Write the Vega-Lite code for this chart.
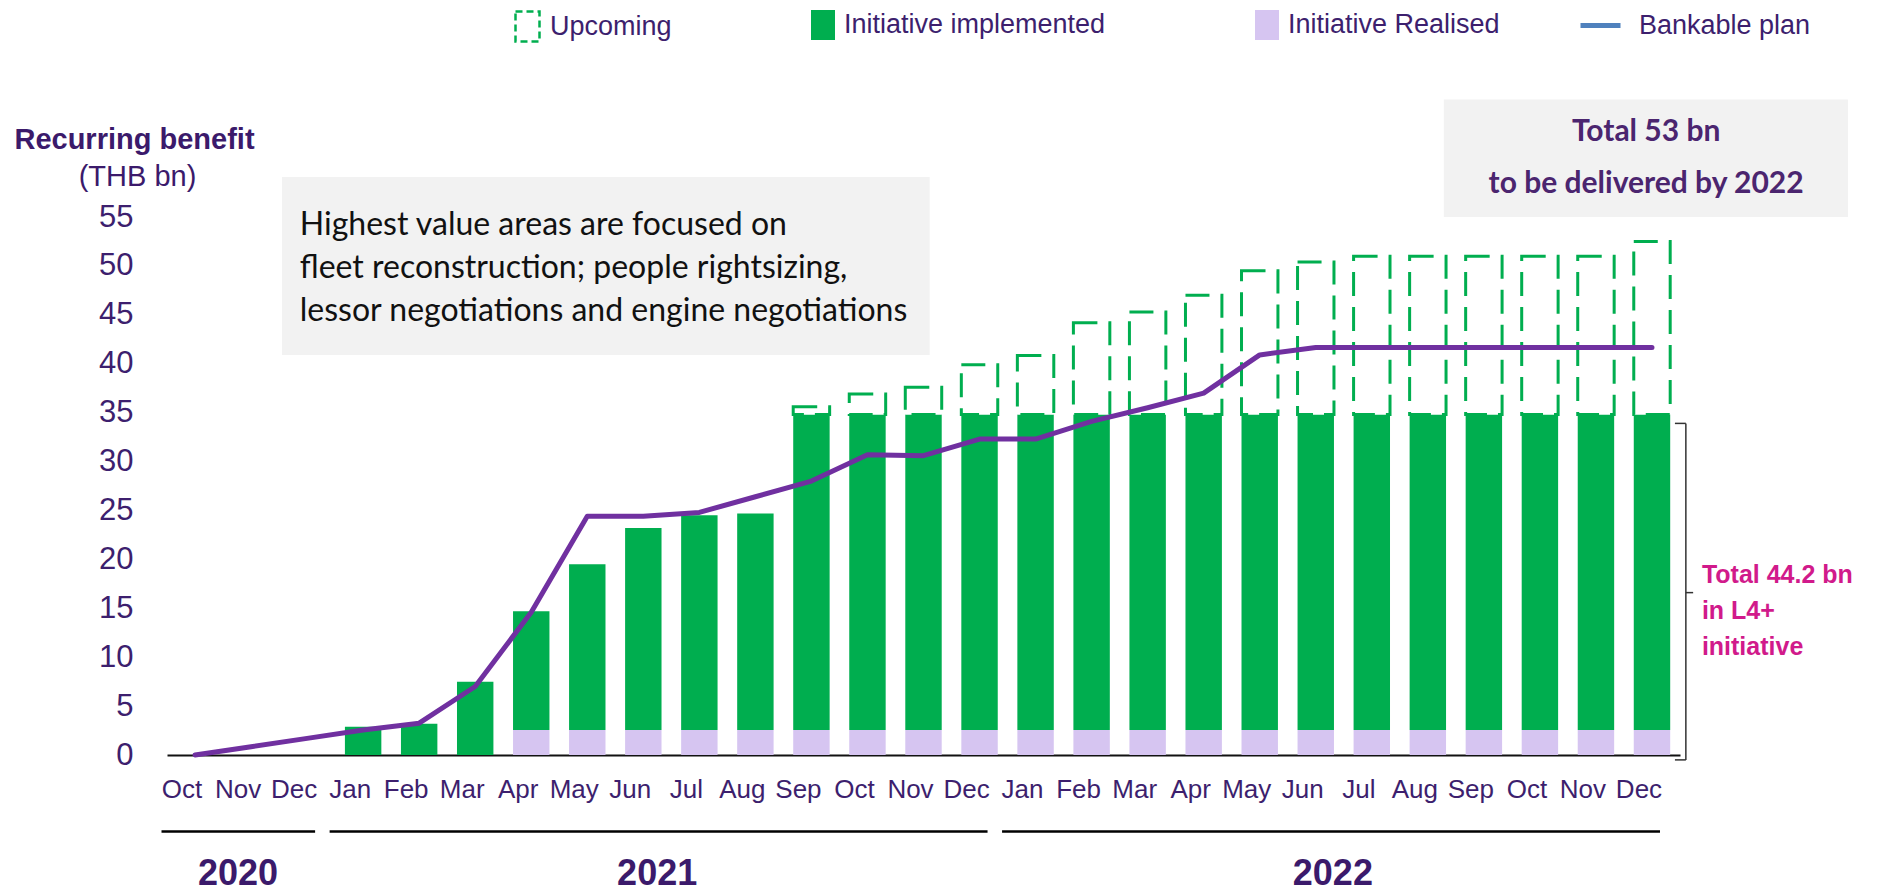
{
  "$schema": "https://vega.github.io/schema/vega-lite/v6.json",
  "width": 1513,
  "height": 538,
  "autosize": {"type": "none"},
  "padding": {"left": 167, "top": 217, "right": 224, "bottom": 139},
  "background": "white",
  "config": {"view": {"stroke": null}, "font": "Liberation Sans"},
  "datasets": {
    "bars": [
      {"month": "Jan 2021", "series": "Initiative implemented", "value": 2.9},
      {"month": "Feb 2021", "series": "Initiative implemented", "value": 3.2},
      {"month": "Mar 2021", "series": "Initiative implemented", "value": 7.5},
      {"month": "Apr 2021", "series": "Initiative Realised", "value": 2.55},
      {"month": "Apr 2021", "series": "Initiative implemented", "value": 12.15},
      {"month": "May 2021", "series": "Initiative Realised", "value": 2.55},
      {"month": "May 2021", "series": "Initiative implemented", "value": 16.95},
      {"month": "Jun 2021", "series": "Initiative Realised", "value": 2.55},
      {"month": "Jun 2021", "series": "Initiative implemented", "value": 20.65},
      {"month": "Jul 2021", "series": "Initiative Realised", "value": 2.55},
      {"month": "Jul 2021", "series": "Initiative implemented", "value": 21.95},
      {"month": "Aug 2021", "series": "Initiative Realised", "value": 2.55},
      {"month": "Aug 2021", "series": "Initiative implemented", "value": 22.15},
      {"month": "Sep 2021", "series": "Initiative Realised", "value": 2.55},
      {"month": "Sep 2021", "series": "Initiative implemented", "value": 32.25},
      {"month": "Oct 2021", "series": "Initiative Realised", "value": 2.55},
      {"month": "Oct 2021", "series": "Initiative implemented", "value": 32.25},
      {"month": "Nov 2021", "series": "Initiative Realised", "value": 2.55},
      {"month": "Nov 2021", "series": "Initiative implemented", "value": 32.25},
      {"month": "Dec 2021", "series": "Initiative Realised", "value": 2.55},
      {"month": "Dec 2021", "series": "Initiative implemented", "value": 32.25},
      {"month": "Jan 2022", "series": "Initiative Realised", "value": 2.55},
      {"month": "Jan 2022", "series": "Initiative implemented", "value": 32.25},
      {"month": "Feb 2022", "series": "Initiative Realised", "value": 2.55},
      {"month": "Feb 2022", "series": "Initiative implemented", "value": 32.25},
      {"month": "Mar 2022", "series": "Initiative Realised", "value": 2.55},
      {"month": "Mar 2022", "series": "Initiative implemented", "value": 32.25},
      {"month": "Apr 2022", "series": "Initiative Realised", "value": 2.55},
      {"month": "Apr 2022", "series": "Initiative implemented", "value": 32.25},
      {"month": "May 2022", "series": "Initiative Realised", "value": 2.55},
      {"month": "May 2022", "series": "Initiative implemented", "value": 32.25},
      {"month": "Jun 2022", "series": "Initiative Realised", "value": 2.55},
      {"month": "Jun 2022", "series": "Initiative implemented", "value": 32.25},
      {"month": "Jul 2022", "series": "Initiative Realised", "value": 2.55},
      {"month": "Jul 2022", "series": "Initiative implemented", "value": 32.25},
      {"month": "Aug 2022", "series": "Initiative Realised", "value": 2.55},
      {"month": "Aug 2022", "series": "Initiative implemented", "value": 32.25},
      {"month": "Sep 2022", "series": "Initiative Realised", "value": 2.55},
      {"month": "Sep 2022", "series": "Initiative implemented", "value": 32.25},
      {"month": "Oct 2022", "series": "Initiative Realised", "value": 2.55},
      {"month": "Oct 2022", "series": "Initiative implemented", "value": 32.25},
      {"month": "Nov 2022", "series": "Initiative Realised", "value": 2.55},
      {"month": "Nov 2022", "series": "Initiative implemented", "value": 32.25},
      {"month": "Dec 2022", "series": "Initiative Realised", "value": 2.55},
      {"month": "Dec 2022", "series": "Initiative implemented", "value": 32.25}
    ],
    "upcoming": [
      {"month": "Sep 2021", "series": "Upcoming", "base": 34.8, "total": 35.6},
      {"month": "Oct 2021", "series": "Upcoming", "base": 34.8, "total": 36.9},
      {"month": "Nov 2021", "series": "Upcoming", "base": 34.8, "total": 37.6},
      {"month": "Dec 2021", "series": "Upcoming", "base": 34.8, "total": 39.9},
      {"month": "Jan 2022", "series": "Upcoming", "base": 34.8, "total": 40.85},
      {"month": "Feb 2022", "series": "Upcoming", "base": 34.8, "total": 44.2},
      {"month": "Mar 2022", "series": "Upcoming", "base": 34.8, "total": 45.3},
      {"month": "Apr 2022", "series": "Upcoming", "base": 34.8, "total": 47.0},
      {"month": "May 2022", "series": "Upcoming", "base": 34.8, "total": 49.5},
      {"month": "Jun 2022", "series": "Upcoming", "base": 34.8, "total": 50.4},
      {"month": "Jul 2022", "series": "Upcoming", "base": 34.8, "total": 51.0},
      {"month": "Aug 2022", "series": "Upcoming", "base": 34.8, "total": 51.0},
      {"month": "Sep 2022", "series": "Upcoming", "base": 34.8, "total": 51.0},
      {"month": "Oct 2022", "series": "Upcoming", "base": 34.8, "total": 51.0},
      {"month": "Nov 2022", "series": "Upcoming", "base": 34.8, "total": 51.0},
      {"month": "Dec 2022", "series": "Upcoming", "base": 34.8, "total": 52.5}
    ],
    "plan": [
      {"month": "Oct 2020", "series": "Bankable plan", "plan": 0},
      {"month": "Nov 2020", "series": "Bankable plan", "plan": 0.85},
      {"month": "Dec 2020", "series": "Bankable plan", "plan": 1.7},
      {"month": "Jan 2021", "series": "Bankable plan", "plan": 2.55},
      {"month": "Feb 2021", "series": "Bankable plan", "plan": 3.25},
      {"month": "Mar 2021", "series": "Bankable plan", "plan": 7.0},
      {"month": "Apr 2021", "series": "Bankable plan", "plan": 14.6},
      {"month": "May 2021", "series": "Bankable plan", "plan": 24.4},
      {"month": "Jun 2021", "series": "Bankable plan", "plan": 24.4},
      {"month": "Jul 2021", "series": "Bankable plan", "plan": 24.8},
      {"month": "Aug 2021", "series": "Bankable plan", "plan": 26.4},
      {"month": "Sep 2021", "series": "Bankable plan", "plan": 28.0},
      {"month": "Oct 2021", "series": "Bankable plan", "plan": 30.7},
      {"month": "Nov 2021", "series": "Bankable plan", "plan": 30.6},
      {"month": "Dec 2021", "series": "Bankable plan", "plan": 32.3},
      {"month": "Jan 2022", "series": "Bankable plan", "plan": 32.3},
      {"month": "Feb 2022", "series": "Bankable plan", "plan": 34.1},
      {"month": "Mar 2022", "series": "Bankable plan", "plan": 35.5},
      {"month": "Apr 2022", "series": "Bankable plan", "plan": 37.0},
      {"month": "May 2022", "series": "Bankable plan", "plan": 40.9},
      {"month": "Jun 2022", "series": "Bankable plan", "plan": 41.65},
      {"month": "Jul 2022", "series": "Bankable plan", "plan": 41.65},
      {"month": "Aug 2022", "series": "Bankable plan", "plan": 41.65},
      {"month": "Sep 2022", "series": "Bankable plan", "plan": 41.65},
      {"month": "Oct 2022", "series": "Bankable plan", "plan": 41.65},
      {"month": "Nov 2022", "series": "Bankable plan", "plan": 41.65},
      {"month": "Dec 2022", "series": "Bankable plan", "plan": 41.65}
    ],
    "notes": [
      {"id": "focus", "text": "Highest value areas are focused on\nfleet reconstruction; people rightsizing,\nlessor negotiations and engine negotiations"},
      {"id": "total", "text": "Total 53 bn\nto be delivered by 2022"},
      {"id": "l4", "text": "Total 44.2 bn\nin L4+\ninitiative"}
    ],
    "years": [
      {"year": "2020", "start": "Oct 2020", "end": "Dec 2020"},
      {"year": "2021", "start": "Jan 2021", "end": "Dec 2021"},
      {"year": "2022", "start": "Jan 2022", "end": "Dec 2022"}
    ]
  },
  "layer": [
    {
      "data": {"name": "bars"},
      "mark": {"type": "bar"},
      "encoding": {
        "x": {
          "field": "month", "type": "nominal", "title": null,
          "scale": {
            "domain": ["Oct 2020", "Nov 2020", "Dec 2020", "Jan 2021", "Feb 2021", "Mar 2021", "Apr 2021", "May 2021", "Jun 2021", "Jul 2021", "Aug 2021", "Sep 2021", "Oct 2021", "Nov 2021", "Dec 2021", "Jan 2022", "Feb 2022", "Mar 2022", "Apr 2022", "May 2022", "Jun 2022", "Jul 2022", "Aug 2022", "Sep 2022", "Oct 2022", "Nov 2022", "Dec 2022"],
            "paddingInner": 0.35, "paddingOuter": 0.175
          },
          "axis": {
            "title": null, "labelExpr": "substring(datum.label, 0, 3)", "labelAngle": 0,
            "ticks": false, "grid": false, "domain": true, "domainColor": "#111111", "domainWidth": 2,
            "labelFont": "Liberation Sans", "labelFontSize": 26, "labelColor": "#3D1F6E",
            "labelPadding": 21, "labelOffset": -13, "labelOverlap": false, "labelBaseline": "top"
          }
        },
        "y": {
          "field": "value", "type": "quantitative", "stack": "zero",
          "scale": {"domain": [0, 55], "nice": false},
          "axis": {
            "values": [0, 5, 10, 15, 20, 25, 30, 35, 40, 45, 50, 55],
            "title": "Recurring benefit", "titleAngle": 0, "titleX": -33, "titleY": -69,
            "titleAlign": "center", "titleBaseline": "alphabetic", "titleFont": "Liberation Sans",
            "titleFontSize": 29, "titleFontWeight": "bold", "titleColor": "#3B1A6B",
            "labelFont": "Liberation Sans", "labelFontSize": 31, "labelColor": "#3D1F6E",
            "labelPadding": 34, "ticks": false, "domain": false, "grid": false
          }
        },
        "color": {
          "field": "series", "type": "nominal",
          "scale": {
            "domain": ["Initiative implemented", "Initiative Realised"],
            "range": ["#00AE4F", "#D6C5F1"]
          },
          "legend": {
            "orient": "none", "legendX": 641, "legendY": -207, "direction": "horizontal",
            "title": null, "padding": 0,
            "labelFont": "Liberation Sans", "labelFontSize": 27, "labelColor": "#3D1F6E",
            "labelLimit": 400, "labelOffset": 6, "columnPadding": 146,
            "symbolSize": 900, "symbolType": "M-0.8,-1H0.8V1H-0.8Z", "symbolStrokeWidth": 0
          }
        },
        "order": {"field": "series", "type": "nominal", "sort": "ascending"}
      }
    },
    {
      "data": {"name": "upcoming"},
      "mark": {"type": "bar", "fill": "#ffffff"},
      "encoding": {
        "x": {"field": "month", "type": "nominal", "title": null},
        "y": {"field": "base", "type": "quantitative", "axis": null},
        "y2": {"field": "total"},
        "stroke": {
          "field": "series", "type": "nominal",
          "scale": {"domain": ["Upcoming"], "range": ["#00AE4F"]},
          "legend": {
            "orient": "none", "legendX": 344, "legendY": -207, "direction": "horizontal",
            "title": null, "padding": 0,
            "labelFont": "Liberation Sans", "labelFontSize": 27, "labelColor": "#3D1F6E",
            "labelLimit": 400, "labelOffset": 6,
            "symbolSize": 900, "symbolType": "M-0.8,-1H0.8V1H-0.8Z",
            "symbolFillColor": "#ffffff", "symbolStrokeWidth": 2.5, "symbolDash": [7, 4]
          }
        },
        "strokeDash": {"value": [24, 11]},
        "strokeWidth": {"value": 3}
      }
    },
    {
      "data": {"name": "plan"},
      "mark": {"type": "line", "color": "#7030A0", "strokeWidth": 5, "strokeCap": "round", "strokeJoin": "round"},
      "encoding": {
        "x": {"field": "month", "type": "nominal", "title": null},
        "y": {
          "field": "plan", "type": "quantitative",
          "axis": {
            "orient": "left", "title": "(THB bn)", "titleAngle": 0, "titleX": -30, "titleY": -32,
            "titleAlign": "center", "titleBaseline": "alphabetic", "titleFont": "Liberation Sans",
            "titleFontSize": 29, "titleFontWeight": "normal", "titleColor": "#3B1A6B",
            "labels": false, "ticks": false, "domain": false, "grid": false
          }
        },
        "opacity": {
          "field": "series", "type": "nominal",
          "scale": {"domain": ["Bankable plan"], "range": [1]},
          "legend": {
            "orient": "none", "legendX": 1411, "legendY": -214, "direction": "horizontal",
            "title": null, "padding": 0,
            "labelFont": "Liberation Sans", "labelFontSize": 27, "labelColor": "#3D1F6E",
            "labelLimit": 400, "labelOffset": 16,
            "symbolType": "stroke", "symbolSize": 1600, "symbolStrokeWidth": 5,
            "symbolStrokeColor": "#4F81BD"
          }
        }
      }
    },
    {
      "data": {"name": "notes"},
      "transform": [{"filter": "datum.id === 'focus'"}],
      "mark": {"type": "rect", "color": "#F2F2F2"},
      "encoding": {
        "x": {"datum": "Dec 2020", "type": "nominal", "bandPosition": -0.19},
        "x2": {"datum": "Nov 2021", "bandPosition": 0.67},
        "y": {"datum": 59.1, "type": "quantitative", "axis": null},
        "y2": {"datum": 40.9}
      }
    },
    {
      "data": {"name": "notes"},
      "transform": [{"filter": "datum.id === 'focus'"}],
      "mark": {"type": "text", "align": "left", "baseline": "alphabetic", "font": "Lato", "fontSize": 32, "lineHeight": 43, "lineBreak": "\n", "color": "#111111"},
      "encoding": {
        "x": {"datum": "Dec 2020", "type": "nominal", "bandPosition": 0.3},
        "y": {"datum": 53.2, "type": "quantitative", "axis": null},
        "text": {"field": "text"}
      }
    },
    {
      "data": {"name": "notes"},
      "transform": [{"filter": "datum.id === 'total'"}],
      "mark": {"type": "rect", "color": "#F2F2F2"},
      "encoding": {
        "x": {"datum": "Aug 2022", "type": "nominal", "bandPosition": 0.94},
        "x2": {"datum": "Dec 2022", "bandPosition": 5.88},
        "y": {"datum": 67.0, "type": "quantitative", "axis": null},
        "y2": {"datum": 55.0}
      }
    },
    {
      "data": {"name": "notes"},
      "transform": [{"filter": "datum.id === 'total'"}],
      "mark": {"type": "text", "align": "center", "baseline": "alphabetic", "font": "Lato", "fontWeight": "bold", "fontSize": 30, "lineHeight": 52, "lineBreak": "\n", "color": "#4B256F"},
      "encoding": {
        "x": {"datum": "Dec 2022", "type": "nominal", "bandPosition": 0.34},
        "y": {"datum": 62.8, "type": "quantitative", "axis": null},
        "text": {"field": "text"}
      }
    },
    {
      "data": {"name": "notes"},
      "transform": [{"filter": "datum.id === 'l4'"}],
      "mark": {"type": "text", "align": "left", "baseline": "alphabetic", "font": "Liberation Sans", "fontWeight": "bold", "fontSize": 25, "lineHeight": 36, "lineBreak": "\n", "color": "#D11A8B"},
      "encoding": {
        "x": {"datum": "Dec 2022", "type": "nominal", "bandPosition": 1.87},
        "y": {"datum": 17.6, "type": "quantitative", "axis": null},
        "text": {"field": "text"}
      }
    },
    {
      "data": {"values": [{}]},
      "mark": {"type": "rule", "color": "#333333", "strokeWidth": 1.5},
      "encoding": {
        "x": {"datum": "Dec 2022", "type": "nominal", "bandPosition": 1.43},
        "y": {"datum": 33.9, "type": "quantitative", "axis": null},
        "y2": {"datum": -0.5}
      }
    },
    {
      "data": {"values": [{}]},
      "mark": {"type": "rule", "color": "#333333", "strokeWidth": 1.5},
      "encoding": {
        "x": {"datum": "Dec 2022", "type": "nominal", "bandPosition": 1.13},
        "x2": {"datum": "Dec 2022", "bandPosition": 1.43},
        "y": {"datum": 33.9, "type": "quantitative", "axis": null}
      }
    },
    {
      "data": {"values": [{}]},
      "mark": {"type": "rule", "color": "#333333", "strokeWidth": 1.5},
      "encoding": {
        "x": {"datum": "Dec 2022", "type": "nominal", "bandPosition": 1.13},
        "x2": {"datum": "Dec 2022", "bandPosition": 1.43},
        "y": {"datum": -0.5, "type": "quantitative", "axis": null}
      }
    },
    {
      "data": {"values": [{}]},
      "mark": {"type": "rule", "color": "#333333", "strokeWidth": 1.5},
      "encoding": {
        "x": {"datum": "Dec 2022", "type": "nominal", "bandPosition": 1.43},
        "x2": {"datum": "Dec 2022", "bandPosition": 1.63},
        "y": {"datum": 16.6, "type": "quantitative", "axis": null}
      }
    },
    {
      "data": {"name": "years"},
      "mark": {"type": "rule", "color": "#000000", "strokeWidth": 2.5},
      "encoding": {
        "x": {"field": "start", "type": "nominal", "bandPosition": -0.42, "title": null},
        "x2": {"field": "end", "bandPosition": 0.72},
        "y": {"datum": -7.83, "type": "quantitative", "axis": null}
      }
    },
    {
      "data": {"name": "years"},
      "transform": [{"filter": "datum.year === '2020'"}],
      "mark": {"type": "text", "align": "center", "baseline": "alphabetic", "font": "Liberation Sans", "fontWeight": "bold", "fontSize": 36, "color": "#3B1A6B"},
      "encoding": {
        "x": {"datum": "Nov 2020", "type": "nominal", "bandPosition": 0.14},
        "y": {"datum": -13.3, "type": "quantitative", "axis": null},
        "text": {"field": "year"}
      }
    },
    {
      "data": {"name": "years"},
      "transform": [{"filter": "datum.year === '2021'"}],
      "mark": {"type": "text", "align": "center", "baseline": "alphabetic", "font": "Liberation Sans", "fontWeight": "bold", "fontSize": 36, "color": "#3B1A6B"},
      "encoding": {
        "x": {"datum": "Jun 2021", "type": "nominal", "bandPosition": 0.88},
        "y": {"datum": -13.3, "type": "quantitative", "axis": null},
        "text": {"field": "year"}
      }
    },
    {
      "data": {"name": "years"},
      "transform": [{"filter": "datum.year === '2022'"}],
      "mark": {"type": "text", "align": "center", "baseline": "alphabetic", "font": "Liberation Sans", "fontWeight": "bold", "fontSize": 36, "color": "#3B1A6B"},
      "encoding": {
        "x": {"datum": "Jun 2022", "type": "nominal", "bandPosition": 0.97},
        "y": {"datum": -13.3, "type": "quantitative", "axis": null},
        "text": {"field": "year"}
      }
    }
  ],
  "resolve": {"axis": {"y": "independent"}}
}
